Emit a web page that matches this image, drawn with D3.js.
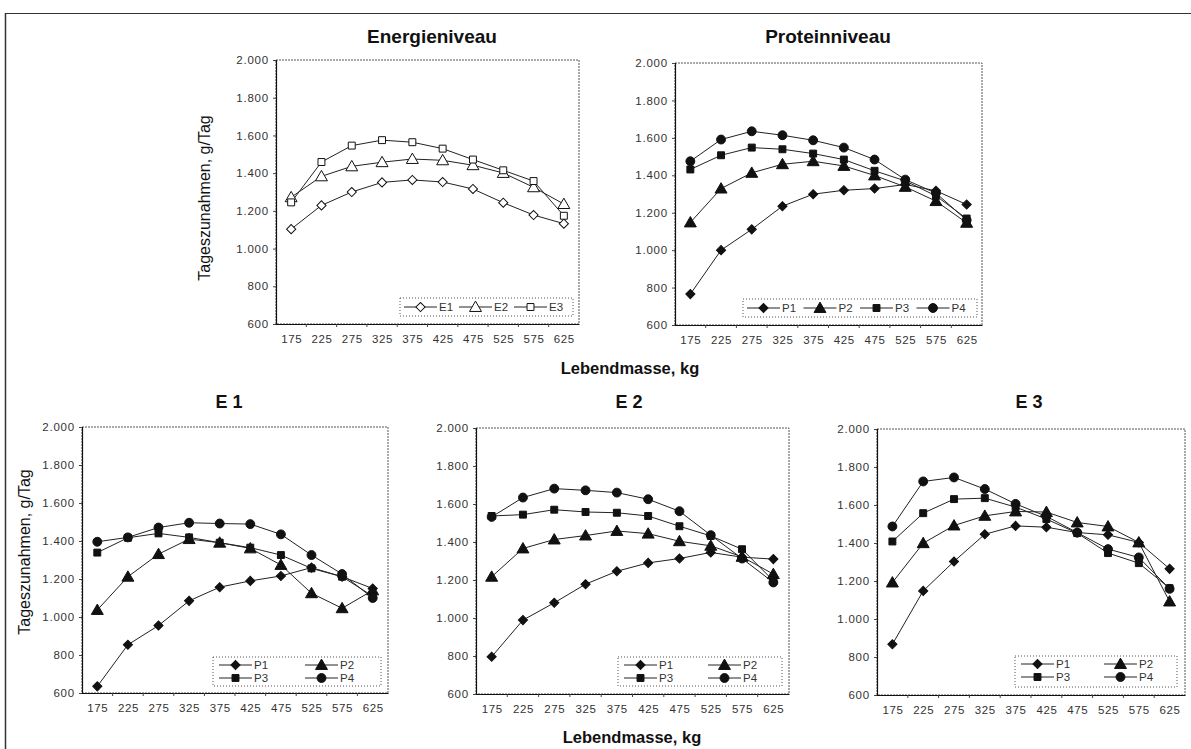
<!DOCTYPE html>
<html><head><meta charset="utf-8">
<script src="https://cdn.jsdelivr.net/npm/d3@7"></script>
<style>
body{margin:0;background:#fff;}
svg{display:block;font-family:"Liberation Sans",Arial,sans-serif;}
</style></head>
<body>
<svg id="chart" width="1191" height="749"></svg>
<script>
// ---------- data ----------
const categories = [175,225,275,325,375,425,475,525,575,625];
const yTicks = [600,800,1000,1200,1400,1600,1800,2000];

// Energieniveau
const energyE1 = [1103,1229,1300,1351,1364,1353,1316,1243,1178,1132];
const energyE2 = [1272,1383,1436,1458,1475,1468,1442,1401,1325,1236];
const energyE3 = [1245,1459,1546,1575,1564,1530,1472,1415,1358,1174];

// Proteinniveau
const proteinP1 = [765,1000,1111,1235,1299,1320,1329,1351,1317,1244];
const proteinP2 = [1148,1329,1413,1459,1475,1450,1399,1338,1262,1146];
const proteinP3 = [1431,1507,1548,1539,1516,1484,1424,1370,1290,1169];
const proteinP4 = [1475,1591,1635,1614,1587,1548,1484,1377,1305,1160];

// E 1
const e1P1 = [635,854,955,1085,1157,1190,1216,1260,1212,1150];
const e1P2 = [1037,1212,1331,1410,1391,1361,1274,1125,1046,1140];
const e1P3 = [1339,1417,1440,1419,1391,1365,1326,1256,1212,1110];
const e1P4 = [1396,1419,1471,1496,1492,1489,1435,1326,1226,1100];

// E 2
const e2P1 = [796,989,1080,1178,1246,1290,1313,1345,1320,1310];
const e2P2 = [1217,1366,1413,1434,1458,1444,1404,1380,1322,1231];
const e2P3 = [1537,1544,1570,1558,1554,1537,1483,1432,1362,1196];
const e2P4 = [1532,1634,1681,1672,1660,1625,1562,1436,1313,1187];

// E 3
const e3P1 = [867,1148,1303,1446,1490,1483,1455,1443,1403,1264];
const e3P2 = [1192,1399,1492,1543,1566,1563,1508,1487,1403,1092];
const e3P3 = [1408,1557,1631,1636,1589,1526,1452,1347,1294,1162];
const e3P4 = [1487,1724,1745,1684,1606,1540,1455,1368,1324,1159];

const energyNames = ["E1","E2","E3"];
const proteinNames = ["P1","P2","P3","P4"];

// ---------- layout ----------
const svg = d3.select("#chart");
const fmt = d3.formatLocale({decimal:",",thousands:".",grouping:[3],currency:["",""]}).format(",");

// page frame
svg.append("line").attr("x1",5).attr("x2",1191).attr("y1",13.5).attr("y2",13.5).attr("stroke","#333").attr("stroke-width",1);
svg.append("line").attr("x1",5.5).attr("x2",5.5).attr("y1",13).attr("y2",749).attr("stroke","#333").attr("stroke-width",1.5);

const panels = [
  {title:"Energieniveau", tx:432, ty:43, tsize:19, x0:276, x1:579, y0:60, y1:324,
   series:[energyE1,energyE2,energyE3], names:energyNames, shapes:["diamond","triangle","square"], open:true,
   legend:{x:400,y:298,w:173,h:18,rows:1}, ylab:{x:210,y:198}},
  {title:"Proteinniveau", tx:828, ty:43, tsize:19, x0:675, x1:982, y0:63, y1:325,
   series:[proteinP1,proteinP2,proteinP3,proteinP4], names:proteinNames, shapes:["diamond","triangle","square","circle"], open:false,
   legend:{x:743,y:299,w:234,h:18,rows:1}},
  {title:"E 1", tx:229, ty:408, tsize:18, x0:82, x1:388, y0:427, y1:693,
   series:[e1P1,e1P2,e1P3,e1P4], names:proteinNames, shapes:["diamond","triangle","square","circle"], open:false,
   legend:{x:213,y:657,w:168,h:29,rows:2}, ylab:{x:30,y:552}},
  {title:"E 2", tx:629, ty:408, tsize:18, x0:476, x1:789, y0:428, y1:694,
   series:[e2P1,e2P2,e2P3,e2P4], names:proteinNames, shapes:["diamond","triangle","square","circle"], open:false,
   legend:{x:618,y:657,w:164,h:29,rows:2}},
  {title:"E 3", tx:1029, ty:408, tsize:18, x0:877, x1:1185, y0:429, y1:695,
   series:[e3P1,e3P2,e3P3,e3P4], names:proteinNames, shapes:["diamond","triangle","square","circle"], open:false,
   legend:{x:1015,y:656,w:162,h:31,rows:2}}
];

function symbolPath(shape){
  if(shape==="diamond") return d3.symbol(d3.symbolSquare,42)();
  if(shape==="triangle") return d3.symbol(d3.symbolTriangle,62)();
  if(shape==="square") return d3.symbol(d3.symbolSquare,48)();
  return d3.symbol(d3.symbolCircle,62)();
}
function drawMarker(g,shape,x,y,open){
  g.append("path").attr("d",symbolPath(shape))
   .attr("transform",`translate(${x},${y})`+(shape==="diamond"?" rotate(45)":"")+(shape==="triangle"?" translate(0,1)":""))
   .attr("fill",open?"#fff":"#111").attr("stroke","#111").attr("stroke-width",1);
}

panels.forEach(p=>{
  const g = svg.append("g");
  const x = d3.scalePoint().domain(categories).range([p.x0,p.x1]).padding(0.5);
  const y = d3.scaleLinear().domain([600,2000]).range([p.y1,p.y0]);

  // frame
  g.append("rect").attr("x",p.x0).attr("y",p.y0).attr("width",p.x1-p.x0).attr("height",p.y1-p.y0)
   .attr("fill","none").attr("stroke","#555").attr("stroke-width",1).attr("stroke-dasharray","2,1");

  // y axis
  const ya = g.append("g").attr("transform",`translate(${p.x0},0)`)
    .call(d3.axisLeft(y).tickValues(yTicks).tickFormat(fmt).tickSize(3).tickPadding(4));
  ya.select(".domain").attr("stroke","#111").attr("stroke-width",1.2);
  ya.selectAll(".tick line").attr("stroke","#444");
  ya.selectAll("text").attr("font-size",11.5).attr("fill","#333").attr("letter-spacing","0.8px")
    .attr("font-family","'Liberation Sans',Arial,sans-serif");

  // x axis
  const xa = g.append("g").attr("transform",`translate(0,${p.y1})`)
    .call(d3.axisBottom(x).tickSize(0).tickPadding(11));
  xa.select(".domain").attr("stroke","#111").attr("stroke-width",1.2);
  xa.selectAll("text").attr("font-size",11.5).attr("fill","#333").attr("letter-spacing","0.6px")
    .attr("font-family","'Liberation Sans',Arial,sans-serif");
  // boundary ticks
  const step = x.step();
  g.selectAll(".bt").data(categories.slice(1)).enter().append("line")
    .attr("x1",d=>x(d)-step/2).attr("x2",d=>x(d)-step/2)
    .attr("y1",p.y1).attr("y2",p.y1+3).attr("stroke","#444");

  // title
  g.append("text").attr("x",p.tx).attr("y",p.ty).attr("text-anchor","middle")
    .attr("font-size",p.tsize).attr("font-weight","bold").attr("fill","#111").text(p.title);

  // lines + markers
  const line = d3.line().x((d,i)=>x(categories[i])).y(d=>y(d));
  p.series.forEach((s,si)=>{
    g.append("path").attr("d",line(s)).attr("fill","none").attr("stroke","#222").attr("stroke-width",1);
  });
  p.series.forEach((s,si)=>{
    s.forEach((v,i)=>drawMarker(g,p.shapes[si],x(categories[i]),y(v),p.open));
  });

  // legend
  const L = p.legend;
  g.append("rect").attr("x",L.x).attr("y",L.y).attr("width",L.w).attr("height",L.h)
    .attr("fill","#fff").attr("stroke","#555").attr("stroke-dasharray","1,2");
  p.names.forEach((n,i)=>{
    let lx, ly;
    if(L.rows===1){
      const colW = (L.w-8)/p.names.length;
      lx = L.x+4+i*colW; ly = L.y+L.h/2;
    } else {
      const col = i%2, row = Math.floor(i/2);
      lx = L.x+6+col*(L.w/2+2); ly = L.y+8+row*13;
    }
    const segW = 33;
    g.append("line").attr("x1",lx).attr("x2",lx+segW).attr("y1",ly).attr("y2",ly).attr("stroke","#222");
    drawMarker(g,p.shapes[i],lx+segW/2,ly,p.open);
    g.append("text").attr("x",lx+segW+2).attr("y",ly+4).attr("font-size",11.5).attr("fill","#333").text(n);
  });

  // y label
  if(p.ylab){
    g.append("text").attr("transform",`translate(${p.ylab.x},${p.ylab.y}) rotate(-90)`)
      .attr("text-anchor","middle").attr("font-size",16).attr("fill","#111").text("Tageszunahmen, g/Tag");
  }
});

// x axis labels
svg.append("text").attr("x",630).attr("y",374).attr("text-anchor","middle").attr("font-size",16.5)
  .attr("font-weight","bold").attr("fill","#111").text("Lebendmasse, kg");
svg.append("text").attr("x",632).attr("y",743).attr("text-anchor","middle").attr("font-size",16.5)
  .attr("font-weight","bold").attr("fill","#111").text("Lebendmasse, kg");
</script>
</body></html>
